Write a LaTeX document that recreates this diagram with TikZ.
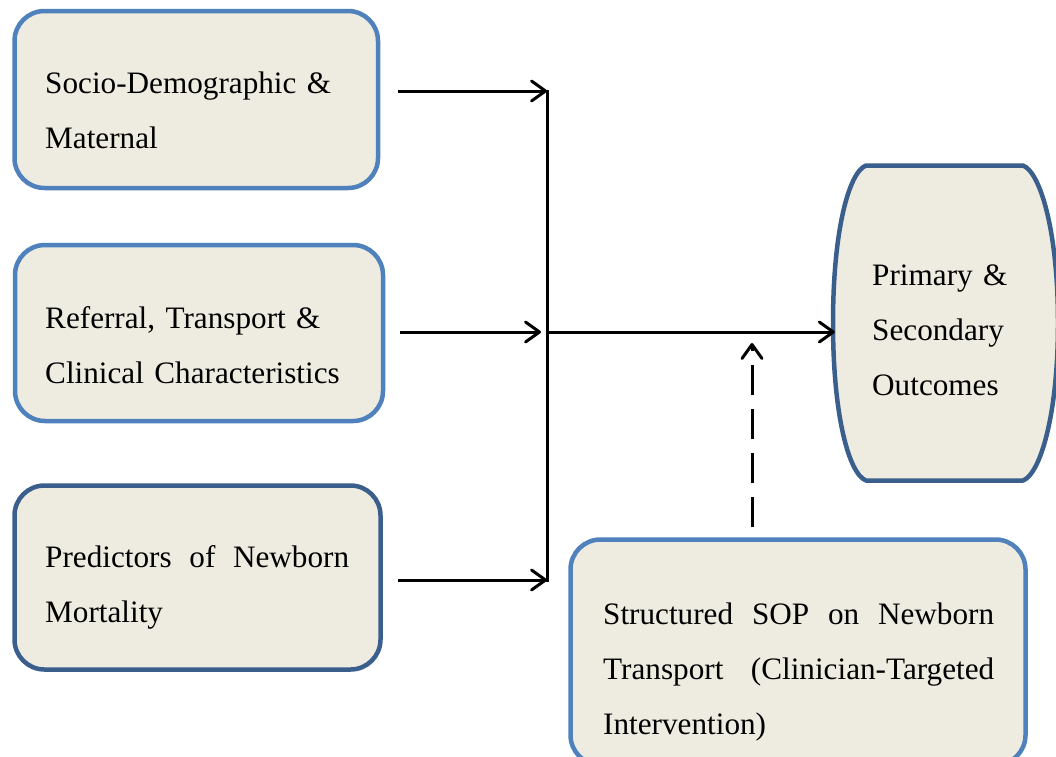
\documentclass[tikz,border=0pt]{standalone}
\usepackage{fontspec}
\setmainfont{Liberation Serif}
\usetikzlibrary{arrows.meta,calc}
\definecolor{lb}{HTML}{4F81BD}
\definecolor{db}{HTML}{3A5F8C}
\definecolor{fillc}{HTML}{EEECE1}
\begin{document}
\begin{tikzpicture}[x=1pt,y=-1pt,
 box/.style={draw, line width=4.5pt, fill=fillc, rounded corners=30pt, inner sep=0pt},
 lbox/.style={box, draw=lb},
 dbox/.style={box, draw=db},
 txt/.style={inner sep=0pt, font=\fontsize{31.2}{55}\selectfont, align=left},
 jtxt/.style={txt, align=justify},
 arr/.style={line width=3pt, -{Straight Barb[length=14pt,width=20pt,round]}}]
\useasboundingbox (0,0) rectangle (1056,756);
% boxes
\node[lbox, minimum width=363.5pt, minimum height=177pt] (b1) at (196.25,99.5) {};
\node[lbox, minimum width=368pt, minimum height=176pt] (b2) at (199,333) {};
\node[dbox, minimum width=366pt, minimum height=184pt] (b3) at (197.5,577.5) {};
\node[lbox, minimum width=455pt, minimum height=225.5pt] (sop) at (798,652.25) {};
% outcomes shape
\draw[db, line width=4.5pt, fill=fillc, line join=round]
  (866,165.5) -- (1023,165.5) .. controls (1040,172) and (1058,230) .. (1058,323)
  .. controls (1058,416) and (1040,474) .. (1023,480.5)
  -- (866,480.5) .. controls (849,474) and (833,416) .. (833,323)
  .. controls (833,230) and (849,172) .. (866,165.5) -- cycle;
\node[inner sep=0pt, minimum width=220pt, minimum height=315pt] (out) at (945,323) {};
% texts
\node[txt, text width=330pt, anchor=base west] (t1) at (45,93) {Socio-Demographic \&\\Maternal};
\node[txt, text width=330pt, anchor=base west] (t2) at (45,328) {Referral, Transport \&\\Clinical Characteristics};
\node[jtxt, text width=304pt, anchor=base west] (t3) at (45,567) {Predictors of Newborn\linebreak Mortality};
\node[jtxt, text width=391pt, anchor=base west] (t4) at (603,624) {Structured SOP on Newborn\linebreak Transport (Clinician-Targeted\linebreak Intervention)};
\node[txt, text width=170pt, anchor=base west] (t5) at (872,285) {Primary \&\\Secondary\\Outcomes};
% connectors
\coordinate (j1) at (547,91);
\coordinate (j2) at (547,332);
\coordinate (j3) at (547,580);
\coordinate (d0) at (752,527);
\coordinate (d1) at (752,343);
\draw[line width=3pt] ($(j1)+(0,-1.5)$) -- ($(j3)+(0,2)$);
\draw[arr] ($(b1.east |- j1)+(18,0)$) -- (j1);
\draw[arr] ($(b2.east |- j2)+(15,0)$) -- ($(j2)+(-6,0)$);
\draw[arr] ($(b3.east |- j3)+(15.5,0)$) -- (j3);
\draw[arr] (j2) -- (j2 -| out.west);
\draw[arr, dash pattern=on 30pt off 14pt] (d0) -- (d1);
\end{tikzpicture}
\end{document}
